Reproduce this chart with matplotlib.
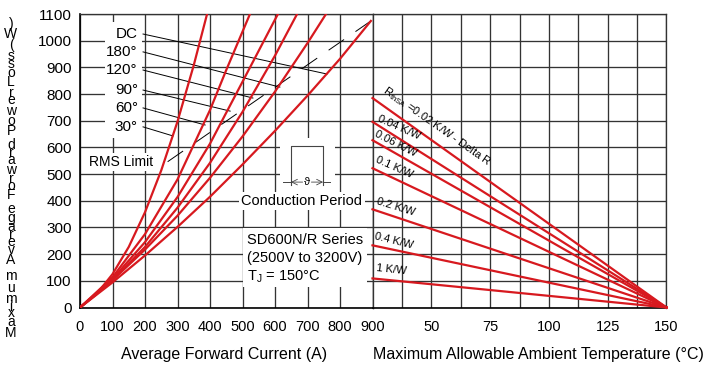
import numpy as np
import matplotlib
matplotlib.use("Agg")
import matplotlib.pyplot as plt
from matplotlib.patches import Rectangle
from matplotlib import font_manager

plt.rcParams['font.family'] = ['Liberation Sans', 'DejaVu Sans']
plt.rcParams['mathtext.fontset'] = 'custom'
plt.rcParams['mathtext.rm'] = 'Liberation Sans'
plt.rcParams['lines.scale_dashes'] = False

RED = '#d7191f'
GRID = '#333333'

# left panel: average forward power loss vs average forward current
angle_labels = ["DC", "180°", "120°", "90°", "60°", "30°"]
cur_dc = [0, 100, 200, 300, 400, 500, 600, 700, 800, 895]
pow_dc = [0, 94, 195, 302, 415, 536, 662, 794, 932, 1074]
cur_180 = [0, 100, 200, 300, 400, 500, 600, 700, 757]
pow_180 = [0, 102, 217, 344, 486, 641, 809, 991, 1100]
cur_120 = [0, 100, 200, 300, 400, 500, 600, 668]
pow_120 = [0, 103, 227, 374, 542, 733, 944, 1100]
cur_90 = [0, 100, 200, 300, 400, 500, 609]
pow_90 = [0, 107, 245, 414, 614, 846, 1100]
cur_60 = [0, 100, 200, 300, 400, 450, 523]
pow_60 = [0, 113, 275, 480, 740, 890, 1100]
cur_30 = [0, 50, 100, 150, 200, 250, 300, 350, 391]
pow_30 = [0, 49, 125, 227, 357, 514, 697, 908, 1100]
curves = [(cur_dc, pow_dc), (cur_180, pow_180), (cur_120, pow_120),
          (cur_90, pow_90), (cur_60, pow_60), (cur_30, pow_30)]

# leader line end points on each curve (A, W), same order as labels
leader_end_cur = [760, 615, 532, 462, 385, 286]
leader_end_pow = [875, 826, 785, 736, 684, 643]
label_pow = [1025, 958, 890, 815, 748, 677]

rms_cur = [895, 255]
rms_pow = [1074, 534]

# right panel: power vs ambient temperature for heatsink resistances
rth_labels = ["0.04 K/W", "0.06 K/W", "0.1 K/W", "0.2 K/W", "0.4 K/W", "1 K/W"]
ambient = [25, 150]
pow_at_25 = [785, 696, 627, 522, 368, 233, 109]

ylabel = "Maximum Average Forward Power Loss (W)"

fig = plt.figure(figsize=(7.11, 3.66), dpi=100)
W_, H_ = 711, 366
bot = (H_ - 307.5) / H_
hgt = 293.5 / H_
axL = fig.add_axes([80 / W_, bot, 292.5 / W_, hgt])
axR = fig.add_axes([372.5 / W_, bot, 294 / W_, hgt])

for ax in (axL, axR):
    ax.set_ylim(0, 1100)
    ax.set_yticks(np.arange(0, 1101, 100))
    ax.set_axisbelow(True)
    ax.grid(True, which='both', color=GRID, lw=0.95)
    ax.tick_params(which='both', length=0, labelsize=10.5, pad=9)
    for s in ax.spines.values():
        s.set_color(GRID)
        s.set_linewidth(0.95)
    ax.spines['bottom'].set_color('black')
    ax.spines['bottom'].set_linewidth(1.2)

axL.set_xlim(0, 900)
axL.set_xticks(np.arange(0, 901, 100))
axL.tick_params(axis='y', labelsize=11, pad=6)
axL.spines['left'].set_color('black')
axL.spines['left'].set_linewidth(1.2)

axR.set_xlim(25, 150)
axR.set_xticks([50, 75, 100, 125, 150])
axR.set_xticks([37.5, 62.5, 87.5, 112.5, 137.5], minor=True)
axR.set_yticklabels([])

# left panel curves
for (c, p) in curves:
    axL.plot(c, p, color=RED, lw=1.6, zorder=3, clip_on=True)

# label column with white background
axL.add_patch(Rectangle((77, 635), 114, 435, facecolor='white', edgecolor='none', zorder=1))
for lab, ly, ec, ep in zip(angle_labels, label_pow, leader_end_cur, leader_end_pow):
    axL.text(178, ly, lab, ha='right', va='center', fontsize=11, zorder=4)
    axL.plot([194, ec], [ly, ep], color='black', lw=0.7, zorder=2)

axL.plot(rms_cur, rms_pow, color='black', lw=0.7, dashes=(13.5, 10), zorder=2)
axL.text(126, 545, "RMS Limit", ha='center', va='center', fontsize=10, zorder=4,
         bbox=dict(facecolor='white', edgecolor='none', pad=1.5))

# conduction period symbol
axL.add_patch(Rectangle((615, 432), 170, 203, facecolor='white', edgecolor='none', zorder=1))
axL.plot([649, 649, 748, 748], [459, 605, 605, 459], color='#444444', lw=0.8, zorder=2)
axL.plot([625, 649], [470, 470], color='#444444', lw=0.7, zorder=2)
axL.plot([748, 769], [470, 470], color='#444444', lw=0.7, zorder=2)
axL.annotate("", xy=(649, 470), xytext=(685, 470),
             arrowprops=dict(arrowstyle='->', lw=0.6, color='#444444', shrinkA=0, shrinkB=0))
axL.annotate("", xy=(748, 470), xytext=(712, 470),
             arrowprops=dict(arrowstyle='->', lw=0.6, color='#444444', shrinkA=0, shrinkB=0))
axL.text(698, 470, "ϑ", ha='center', va='center', fontsize=8, zorder=4,
         bbox=dict(facecolor='white', edgecolor='none', pad=0.3))
axL.text(683, 399, "Conduction Period", ha='center', va='center', fontsize=10.5, zorder=4,
         bbox=dict(facecolor='white', edgecolor='none', pad=1.5))

# series box
axL.add_patch(Rectangle((501.5, 77), 381.5, 221, facecolor='white', edgecolor='none', zorder=1))
axL.text(514, 253, "SD600N/R Series", ha='left', va='center', fontsize=10.5, zorder=4)
axL.text(514, 186, "(2500V to 3200V)", ha='left', va='center', fontsize=10.5, zorder=4)
axL.text(514, 114, r"T$_\mathregular{J}$ = 150°C", ha='left', va='center', fontsize=10.5, zorder=4)

# right panel lines
for p in pow_at_25:
    axR.plot(ambient, [p, 0], color=RED, lw=1.6, zorder=3, clip_on=False)

axR.text(28.2, 796, r"R$_\mathregular{thSA}$ =0.02 K/W - Delta R", fontsize=8,
         rotation=-35, rotation_mode='anchor', ha='left', va='bottom', zorder=4)
rth_pos = [(26.5, 691), (25.4, 636), (25.6, 538), (26.1, 380), (25.6, 249), (26.5, 129)]
rth_rot = [-24, -27, -24, -17, -14, -6]
for lab, (tx, ty), r in zip(rth_labels, rth_pos, rth_rot):
    axR.text(tx, ty, lab, fontsize=8, rotation=r, rotation_mode='anchor',
             ha='left', va='bottom', zorder=4)

# axis titles
fig.text(121 / W_, (H_ - 354) / H_, "Average Forward Current (A)", fontsize=11.5,
         ha='left', va='center')
fig.text(373 / W_, (H_ - 354) / H_, "Maximum Allowable Ambient Temperature (°C)",
         fontsize=11.5, ha='left', va='center')

# y label: upright glyphs stacked from bottom to top
try:
    from matplotlib.ft2font import FT2Font
    ft = FT2Font(font_manager.findfont('Liberation Sans'))
    ft.set_size(12, 72)
    adv = np.array([ft.load_char(ord(ch)).linearHoriAdvance / 65536 for ch in ylabel])
except Exception:
    adv = np.ones(len(ylabel))
centers = np.cumsum(adv) - adv / 2
centers = (centers - centers[0]) / (centers[-1] - centers[0])
for ch, c in zip(ylabel, centers):
    if ch == ' ':
        continue
    ypix = 333 - c * (333 - 24)
    fig.text(11 / W_, (H_ - ypix) / H_, ch, fontsize=10, ha='center', va='center')

fig.savefig("out.png", dpi=100)
